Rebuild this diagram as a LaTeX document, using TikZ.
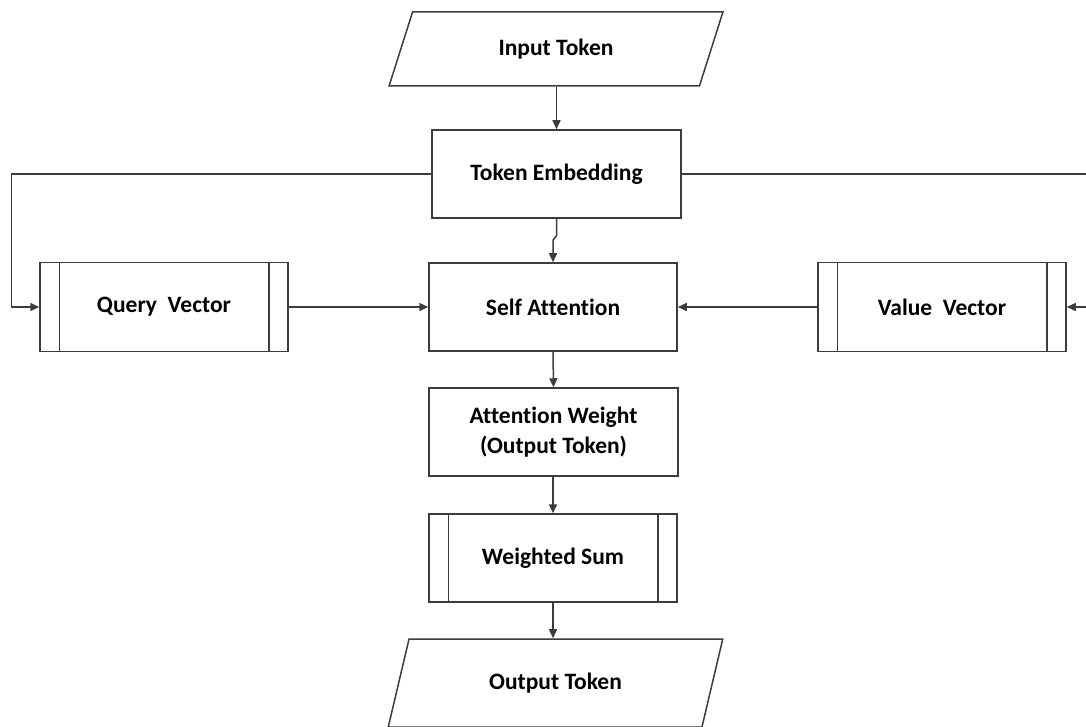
\documentclass[tikz,border=0pt]{standalone}
\usepackage{fontspec}
\setmainfont[Ligatures=NoCommon]{Carlito}
\usetikzlibrary{shapes.geometric, arrows.meta, calc}
\definecolor{linegray}{RGB}{60,60,60}
\tikzset{%
    proc/.style={%
        draw=linegray, line width=1.5pt, minimum width=248pt, minimum height=88pt, inner sep=0pt, align=center, font=\fontsize{23.5}{30}\selectfont\bfseries
    }
}
\tikzset{%
    io/.style={%
        draw=linegray, line width=1.5pt, trapezium, trapezium left angle=65, trapezium right angle=115, trapezium stretches=true, minimum width=334pt, inner sep=0pt, align=center, font=\fontsize{23.5}{30}\selectfont\bfseries
    }
}
\tikzset{%
    flow/.style={%
        draw=linegray, line width=1.5pt, -{Triangle[length=9pt,width=8pt]}
    }
}

\begin{document}
\begin{tikzpicture}[x=1pt, y=-1pt]
  \useasboundingbox (0,0) rectangle (1086,727);

  \node[io, minimum height=74pt] (IT) at (556,49) {Input Token};
  \node[proc, minimum width=249pt] (TE) at (556.5,174) {Token Embedding};
  \node[proc] (SA) at (553,307) {Self Attention};
  \node[proc, minimum height=89pt] (QV) at (164,307) {Query~~Vector};
  \node[proc, minimum height=89pt] (VV) at (942,307) {Value~~Vector};
  \node[proc, minimum width=249pt] (AW) at (553.5,432) {Attention Weight\\(Output Token)};
  \node[proc] (WS) at (553,558) {Weighted Sum};
  \node[io, minimum height=88pt, minimum width=335pt] (OT) at (555.5,683) {Output Token};

  % side bars of the sub-process boxes
  \foreach \n in {QV,VV,WS} {
    \draw[draw=linegray, line width=1.5pt] ([xshift=20pt]\n.north west) -- ([xshift=20pt]\n.south west);
    \draw[draw=linegray, line width=1.5pt] ([xshift=-20pt]\n.north east) -- ([xshift=-20pt]\n.south east);
  }

  % main flow
  \draw[flow] (IT.south -| TE.north) -- (TE.north);
  \draw[flow] (TE.south) -- ++(0,17) -- ([yshift=22pt]SA.north) -- (SA.north);
  \draw[flow] (SA.south) -- (AW.north);
  \draw[flow] (AW.south -| WS.north) -- (WS.north);
  \draw[flow] (WS.south) -- (WS.south |- OT.north);

  % query and value branches
  \draw[flow] (TE.west) -| ([xshift=-28pt]QV.west) -- (QV.west);
  \draw[flow] (TE.east) -| ([xshift=30pt]VV.east) -- (VV.east);
  \draw[flow] (QV.east) -- (SA.west);
  \draw[flow] (VV.west) -- (SA.east);
\end{tikzpicture}
\end{document}
